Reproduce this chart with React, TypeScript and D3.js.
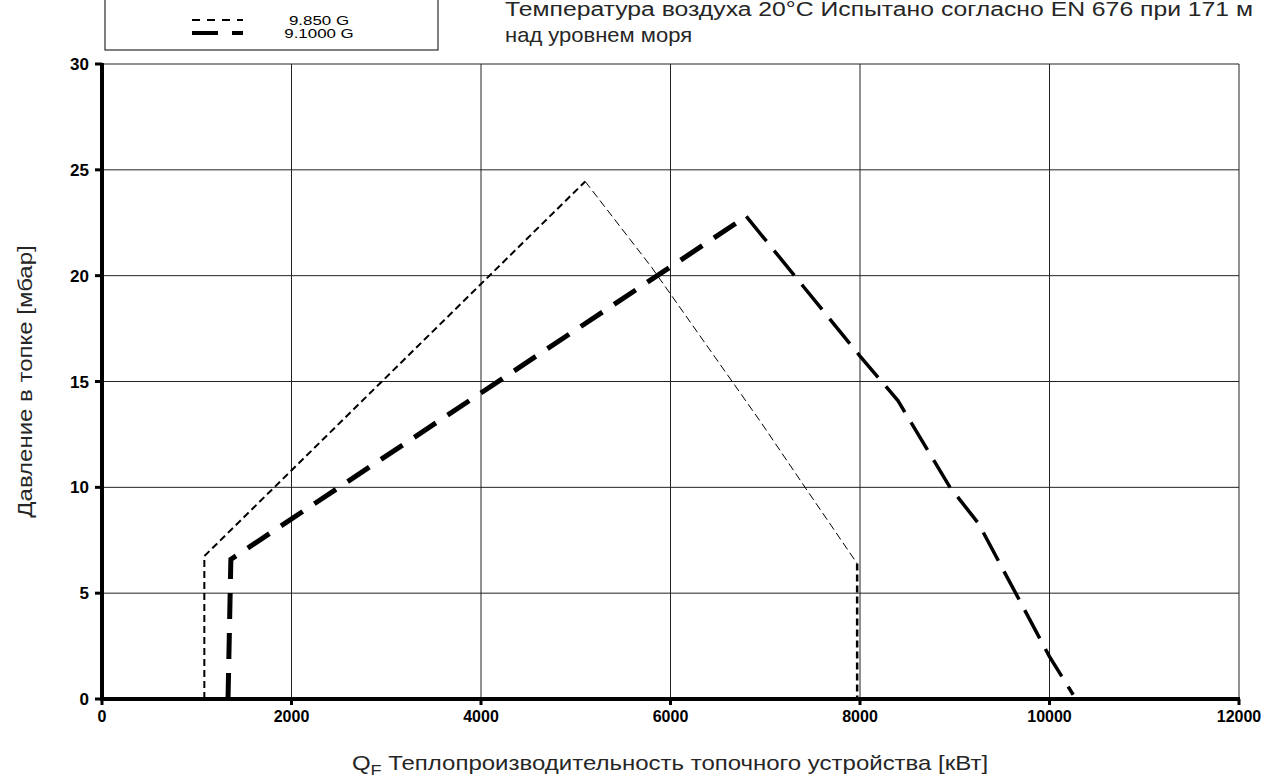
import React from "react";
import * as d3 from "d3";

const xTicks = [0, 2000, 4000, 6000, 8000, 10000, 12000];
const yTicks = [0, 5, 10, 15, 20, 25, 30];

const series1Name = "9.850 G";
const series1X = [1080, 1080, 5100, 5800, 6950, 7420, 7970, 7970];
const series1Y = [0, 6.75, 24.45, 20.4, 13.1, 10.0, 6.4, 0];

const series2Name = "9.1000 G";
const series2X = [1330, 1360, 6800, 7400, 8000, 8400, 8950, 9250, 10000, 10250];
const series2Y = [0, 6.6, 22.8, 19.5, 16.2, 14.1, 10.0, 8.3, 2.0, 0.2];

const yLabel = "Давление в топке [мбар]";
const xLabelMain = " Теплопроизводительность топочного устройства [кВт]";
const note1 = "Температура воздуха 20°C Испытано согласно EN 676 при 171 м";
const note2 = "над уровнем моря";

export default function App() {
  const W = 1268, H = 783;
  const x = d3.scaleLinear().domain([0, 12000]).range([102, 1239]);
  const y = d3.scaleLinear().domain([0, 30]).range([699, 64]);
  const line = d3.line<[number, number]>().x(d => x(d[0])).y(d => y(d[1]));
  const p1: [number, number][] = series1X.map((v, i) => [v, series1Y[i]]);
  const p2: [number, number][] = series2X.map((v, i) => [v, series2Y[i]]);
  const font = "Arial, 'Liberation Sans', sans-serif";
  const txt = "#262626";

  return (
    <svg width={W} height={H} style={{ position: "absolute", left: 0, top: 0 }} fontFamily={font}>
      <rect x={0} y={0} width={W} height={H} fill="#fff" />
      {/* grid */}
      {yTicks.filter(t => t > 0).map(t => (
        <line key={"gy" + t} x1={x(0)} x2={x(12000)} y1={y(t)} y2={y(t)} stroke="#222" strokeWidth={1} />
      ))}
      {xTicks.filter(t => t > 0).map(t => (
        <line key={"gx" + t} x1={x(t)} x2={x(t)} y1={y(0)} y2={y(30)} stroke="#222" strokeWidth={1} />
      ))}
      {/* axes */}
      <line x1={x(0)} x2={x(0)} y1={y(0) + 2} y2={y(30) - 1} stroke="#000" strokeWidth={4} />
      <line x1={x(0) - 2} x2={x(12000) + 1} y1={y(0)} y2={y(0)} stroke="#000" strokeWidth={4} />
      {yTicks.map(t => (
        <g key={"ty" + t}>
          <line x1={x(0) - 7} x2={x(0)} y1={y(t)} y2={y(t)} stroke="#000" strokeWidth={3} />
          <text x={x(0) - 13} y={y(t)} dy="0.36em" textAnchor="end" fontSize={17} fontWeight="bold">{t}</text>
        </g>
      ))}
      {xTicks.map(t => (
        <g key={"tx" + t}>
          <line x1={x(t)} x2={x(t)} y1={y(0)} y2={y(0) + 6} stroke="#000" strokeWidth={3} />
          <text x={x(t)} y={y(0) + 23} textAnchor="middle" fontSize={16} fontWeight="bold">{t}</text>
        </g>
      ))}
      {/* series 1 */}
      <path d={line(p1.slice(0, 3)) || ""} fill="none" stroke="#000" strokeWidth={2} strokeDasharray="7,4" />
      <path d={line(p1.slice(2, 7)) || ""} fill="none" stroke="#000" strokeWidth={1} strokeDasharray="8,4" />
      <path d={line(p1.slice(6, 8)) || ""} fill="none" stroke="#000" strokeWidth={2.5} strokeDasharray="7,4" />
      {/* series 2 */}
      <path d={line(p2.slice(0, 3)) || ""} fill="none" stroke="#000" strokeWidth={5} strokeDasharray="26,14" />
      <path d={line(p2.slice(2)) || ""} fill="none" stroke="#000" strokeWidth={3.5} strokeDasharray="32,12" />
      {/* legend */}
      <rect x={105} y={-5} width={333} height={55} fill="#fff" stroke="#000" strokeWidth={1} />
      <line x1={192} x2={243} y1={20} y2={20} stroke="#000" strokeWidth={2} strokeDasharray="8,7" />
      <line x1={192} x2={243} y1={33} y2={33} stroke="#000" strokeWidth={4} strokeDasharray="26,14" />
      <text transform="translate(319,25) scale(1.3,1)" textAnchor="middle" fontSize={13}>{series1Name}</text>
      <text transform="translate(319,38) scale(1.3,1)" textAnchor="middle" fontSize={13}>{series2Name}</text>
      {/* notes */}
      <text x={505} y={16} fontSize={20} fill={txt} textLength={748} lengthAdjust="spacingAndGlyphs">{note1}</text>
      <text transform="translate(505,42) scale(1.1,1)" fontSize={20} fill={txt}>{note2}</text>
      {/* axis labels */}
      <text transform={`translate(32,${(y(0) + y(30)) / 2}) rotate(-90) scale(1.2,1)`} textAnchor="middle" fontSize={20} fill={txt}>{yLabel}</text>
      <text transform="translate(670,770) scale(1.2,1)" textAnchor="middle" fontSize={20} fill={txt}>
        Q<tspan fontSize={15} dy={5}>F</tspan><tspan dy={-5}>{xLabelMain}</tspan>
      </text>
    </svg>
  );
}
